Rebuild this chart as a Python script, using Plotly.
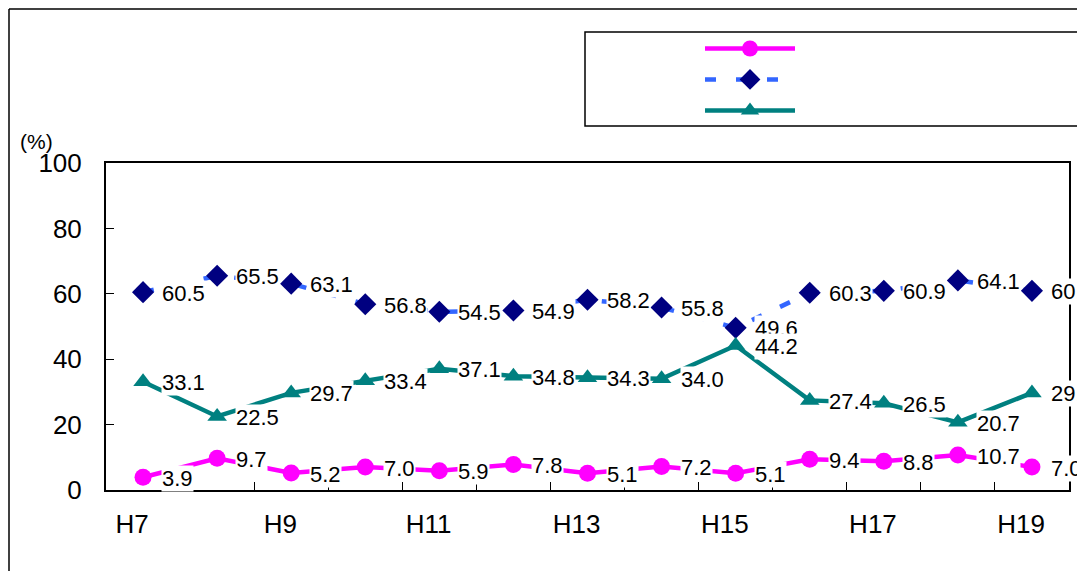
import plotly.graph_objects as go

categories = ["H7", "H8", "H9", "H10", "H11", "H12", "H13", "H14", "H15", "H16", "H17", "H18", "H19"]
tick_labels = ["H7", "", "H9", "", "H11", "", "H13", "", "H15", "", "H17", "", "H19"]
series_a = [3.9, 9.7, 5.2, 7.0, 5.9, 7.8, 5.1, 7.2, 5.1, 9.4, 8.8, 10.7, 7.0]
series_b = [60.5, 65.5, 63.1, 56.8, 54.5, 54.9, 58.2, 55.8, 49.6, 60.3, 60.9, 64.1, 60.9]
series_c = [33.1, 22.5, 29.7, 33.4, 37.1, 34.8, 34.3, 34.0, 44.2, 27.4, 26.5, 20.7, 29.7]

FONT = "Liberation Sans"
OFF = 8  # page body margin
fig = go.Figure()
fig.add_trace(go.Scatter(x=categories, y=series_a, name=" ", mode="lines+markers",
                         line=dict(color="#FF00FF", width=4.5),
                         marker=dict(symbol="circle", size=17, color="#FF00FF")))
fig.add_trace(go.Scatter(x=categories, y=series_b, name=" ", mode="lines+markers",
                         line=dict(color="#3366FF", width=4.5, dash="11px,20px"),
                         marker=dict(symbol="diamond", size=17, color="#000080")))
fig.add_trace(go.Scatter(x=categories, y=series_c, name=" ", mode="lines+markers",
                         line=dict(color="#008080", width=4.5),
                         marker=dict(symbol="triangle-up", size=17, color="#008080")))

W, H = 1085 - OFF, 571 - OFF
L, R, T, B = 106 - OFF, 16, 163 - OFF, 81
pw, ph = W - L - R, H - T - B
def px(x):
    return (x - OFF - L) / pw
def py(y):
    return (H - B - (y - OFF)) / ph

annotations = []
for ys in (series_a, series_b, series_c):
    for c, v in zip(categories, ys):
        annotations.append(dict(x=c, y=v, xref="x", yref="y", text=f"{v:.1f}",
                                showarrow=False, xanchor="left", yanchor="middle",
                                xshift=18, yshift=-1, bgcolor="white", borderpad=0,
                                font=dict(family=FONT, size=22, color="black")))
annotations.append(dict(x=px(36), y=py(142), xref="paper", yref="paper", text="(%)",
                        showarrow=False, xanchor="center", yanchor="middle",
                        font=dict(family=FONT, size=21, color="black")))

shapes = [
    dict(type="line", xref="paper", yref="paper", x0=px(9), x1=px(9), y0=py(580), y1=py(9),
         line=dict(color="black", width=1.5)),
    dict(type="line", xref="paper", yref="paper", x0=px(9), x1=px(1100), y0=py(9), y1=py(9),
         line=dict(color="black", width=1.5)),
    dict(type="rect", xref="paper", yref="paper", x0=px(585), x1=px(1080), y0=py(126), y1=py(32),
         line=dict(color="black", width=1.5), fillcolor="white", layer="below"),
]

pad = "\u00a0\u00a0\u00a0"
fig.update_layout(
    width=W, height=H,
    margin=dict(l=L, r=R, t=T, b=B, autoexpand=False),
    paper_bgcolor="white", plot_bgcolor="white",
    font=dict(family=FONT, size=26, color="black"),
    showlegend=True,
    legend=dict(x=px(700), y=py(28), xanchor="left", yanchor="top", bgcolor="rgba(0,0,0,0)",
                borderwidth=0, itemwidth=90, font=dict(size=21.5), traceorder="normal"),
    xaxis=dict(type="category", tickmode="array", tickvals=categories,
               ticktext=[t + pad if t else t for t in tick_labels], tickangle=0,
               tickson="boundaries", ticks="inside", ticklen=8, tickcolor="black",
               showline=True, linecolor="black", linewidth=2, mirror=True, showgrid=False,
               ticklabelstandoff=10, tickfont=dict(size=26), range=[-0.5, 12.5]),
    yaxis=dict(range=[0, 100], tickvals=[0, 20, 40, 60, 80, 100], ticks="inside", ticklen=8,
               tickcolor="black", showline=True, linecolor="black", linewidth=2, mirror=True,
               showgrid=False, zeroline=False, ticklabelstandoff=17, tickfont=dict(size=26)),
    annotations=annotations,
    shapes=shapes,
)
fig.write_html("out.html")
